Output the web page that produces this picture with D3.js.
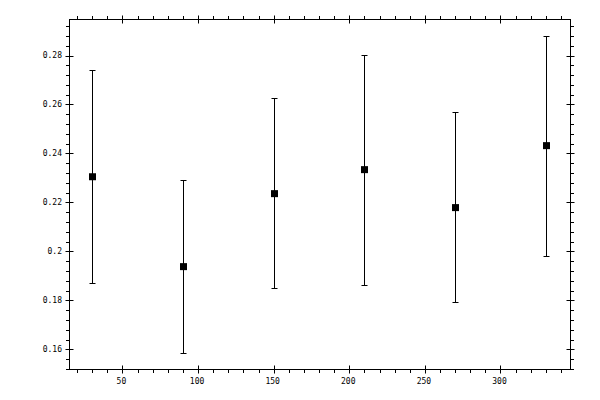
<!DOCTYPE html>
<html>
<head>
<meta charset="utf-8">
<script src="https://cdn.jsdelivr.net/npm/d3@7"></script>
<style>
  body { margin: 0; background: #fff; }
  text { font-family: "DejaVu Sans Mono", monospace; font-size: 8px; fill: #000; }
</style>
</head>
<body>
<div id="chart"></div>
<script>
var xValues = [30, 90, 150, 210, 270, 330];
var yValues = [0.2305, 0.1938, 0.2236, 0.2334, 0.2179, 0.2432];
var yLow = [0.1873, 0.1585, 0.1849, 0.1865, 0.1792, 0.1982];
var yHigh = [0.2742, 0.2293, 0.2628, 0.2804, 0.2570, 0.2880];
var xTickLabels = [50, 100, 150, 200, 250, 300];
var yTickLabels = [0.16, 0.18, 0.2, 0.22, 0.24, 0.26, 0.28];

var width = 600, height = 400;
var plotL = 69.5, plotR = 570.5, plotT = 19.5, plotB = 369.5;

var svg = d3.select("#chart").append("svg")
    .attr("width", width)
    .attr("height", height);

var x = d3.scaleLinear().domain([15, 346.3]).range([plotL, plotR]);
var y = d3.scaleLinear().domain([0.1518, 0.2947]).range([plotB, plotT]);

var data = xValues.map(function(d, i) {
  return {x: d, y: yValues[i], lo: yLow[i], hi: yHigh[i]};
});

// minor ticks every 10 on x, every 0.004 on y
var xMinor = d3.range(20, 346, 10);
var yMinor = d3.range(0, 37).map(function(i) { return +(0.152 + i * 0.004).toFixed(3); })
    .filter(function(v) { return v <= 0.2947; });

var ax = svg.append("g").attr("stroke", "#000").attr("stroke-width", 1);

// frame
ax.append("rect")
  .attr("x", plotL).attr("y", plotT)
  .attr("width", plotR - plotL).attr("height", plotB - plotT)
  .attr("fill", "none");

// minor ticks, outside only
xMinor.forEach(function(v) {
  var px = Math.round(x(v)) + 0.5;
  ax.append("line").attr("x1", px).attr("x2", px).attr("y1", plotB).attr("y2", plotB + 3.5);
  ax.append("line").attr("x1", px).attr("x2", px).attr("y1", plotT).attr("y2", plotT - 3.5);
});
yMinor.forEach(function(v) {
  var py = Math.round(y(v)) + 0.5;
  ax.append("line").attr("y1", py).attr("y2", py).attr("x1", plotL).attr("x2", plotL - 3.5);
  ax.append("line").attr("y1", py).attr("y2", py).attr("x1", plotR).attr("x2", plotR + 3.5);
});

// major ticks cross the frame
xTickLabels.forEach(function(v) {
  var px = Math.round(x(v)) + 0.5;
  ax.append("line").attr("x1", px).attr("x2", px).attr("y1", plotB - 4).attr("y2", plotB + 4);
  ax.append("line").attr("x1", px).attr("x2", px).attr("y1", plotT - 4).attr("y2", plotT + 4);
});
yTickLabels.forEach(function(v) {
  var py = Math.round(y(v)) + 0.5;
  ax.append("line").attr("y1", py).attr("y2", py).attr("x1", plotL - 4).attr("x2", plotL + 4);
  ax.append("line").attr("y1", py).attr("y2", py).attr("x1", plotR - 4).attr("x2", plotR + 4);
});

// tick labels
svg.selectAll("text.xlab")
  .data(xTickLabels)
  .enter().append("text")
  .attr("class", "xlab")
  .attr("x", function(d) { return x(d) - 1; })
  .attr("y", 384)
  .attr("text-anchor", "middle")
  .text(function(d) { return d; });

svg.selectAll("text.ylab")
  .data(yTickLabels)
  .enter().append("text")
  .attr("class", "ylab")
  .attr("x", 62)
  .attr("y", function(d) { return y(d); })
  .attr("dy", "0.32em")
  .attr("text-anchor", "end")
  .text(function(d) { return d3.format("~g")(d); });

// error bars
var eb = svg.append("g").attr("stroke", "#000").attr("stroke-width", 1);
data.forEach(function(d) {
  var px = Math.round(x(d.x)) + 0.5;
  var hy = Math.round(y(d.hi)) + 0.5, ly = Math.round(y(d.lo)) + 0.5;
  eb.append("line").attr("x1", px).attr("x2", px).attr("y1", hy).attr("y2", ly);
  eb.append("line").attr("x1", px - 3).attr("x2", px + 3).attr("y1", hy).attr("y2", hy);
  eb.append("line").attr("x1", px - 3).attr("x2", px + 3).attr("y1", ly).attr("y2", ly);
});

// square markers
svg.selectAll("rect.pt")
  .data(data)
  .enter().append("rect")
  .attr("class", "pt")
  .attr("x", function(d) { return Math.round(x(d.x)) + 0.5 - 3.5; })
  .attr("y", function(d) { return y(d.y) - 3.5; })
  .attr("width", 7)
  .attr("height", 7)
  .attr("fill", "#000");
</script>
</body>
</html>
